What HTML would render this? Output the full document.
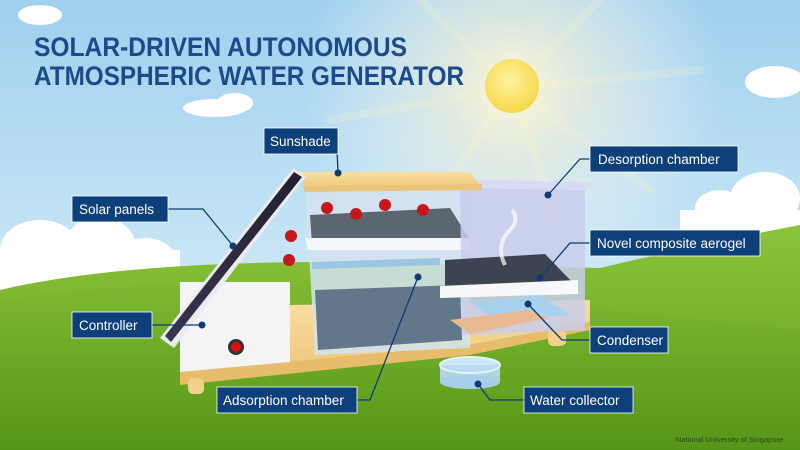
<!DOCTYPE html>
<html><head><meta charset="utf-8"><style>
html,body{margin:0;padding:0;width:800px;height:450px;overflow:hidden}
svg{display:block}
.lb{font-family:"Liberation Sans",sans-serif;font-size:13.5px;fill:#fff}
</style></head><body>
<svg width="800" height="450" viewBox="0 0 800 450" xmlns="http://www.w3.org/2000/svg">
<defs>
<linearGradient id="sky" x1="0" y1="0" x2="0" y2="1"><stop offset="0" stop-color="#9fd0ee"/><stop offset="0.6" stop-color="#c9e6f6"/><stop offset="1" stop-color="#e2f1f8"/></linearGradient>
<radialGradient id="glow" cx="512" cy="88" r="210" gradientUnits="userSpaceOnUse"><stop offset="0" stop-color="#fff8d8" stop-opacity="1"/><stop offset="0.35" stop-color="#fbf3d8" stop-opacity="0.6"/><stop offset="1" stop-color="#fff" stop-opacity="0"/></radialGradient>
<radialGradient id="sun" cx="0.45" cy="0.4" r="0.6"><stop offset="0" stop-color="#fff3a0"/><stop offset="1" stop-color="#f7d84a"/></radialGradient>
<linearGradient id="grass" x1="0" y1="0" x2="0" y2="1"><stop offset="0" stop-color="#8cc43a"/><stop offset="1" stop-color="#5e9e1c"/></linearGradient>
<linearGradient id="grass2" x1="0" y1="0" x2="0" y2="1"><stop offset="0" stop-color="#7db832"/><stop offset="1" stop-color="#4f8f14"/></linearGradient>
<linearGradient id="wood" x1="0" y1="0" x2="0" y2="1"><stop offset="0" stop-color="#f8dfa0"/><stop offset="1" stop-color="#eec77a"/></linearGradient>
<linearGradient id="panel" x1="0" y1="0" x2="1" y2="0"><stop offset="0" stop-color="#3a3550"/><stop offset="1" stop-color="#221f30"/></linearGradient>
</defs>
<rect width="800" height="450" fill="url(#sky)"/>
<circle cx="512" cy="88" r="210" fill="url(#glow)"/>
<g stroke="#fff6c8" stroke-width="8" opacity="0.2" stroke-linecap="round">
<line x1="512" y1="88" x2="420" y2="0"/><line x1="512" y1="88" x2="600" y2="0"/><line x1="512" y1="88" x2="650" y2="190"/><line x1="512" y1="88" x2="430" y2="210"/><line x1="512" y1="88" x2="700" y2="70"/><line x1="512" y1="88" x2="560" y2="230"/><line x1="512" y1="88" x2="330" y2="120"/>
</g>
<circle cx="512" cy="86" r="27" fill="url(#sun)"/>
<g fill="#fff">
<ellipse cx="40" cy="15" rx="22" ry="10"/><ellipse cx="215" cy="108" rx="32" ry="9"/><ellipse cx="235" cy="103" rx="18" ry="10"/>
<ellipse cx="775" cy="82" rx="30" ry="16"/><ellipse cx="720" cy="208" rx="25" ry="18"/><ellipse cx="765" cy="198" rx="35" ry="26"/><rect x="680" y="210" width="120" height="60"/>
<ellipse cx="40" cy="250" rx="40" ry="30"/><ellipse cx="100" cy="245" rx="35" ry="28"/><ellipse cx="145" cy="258" rx="30" ry="20"/><rect x="0" y="250" width="180" height="50"/>
</g>
<path d="M0 290 Q120 262 330 262 L600 268 Q720 240 800 225 L800 450 L0 450Z" fill="url(#grass)"/>
<path d="M0 300 Q200 270 420 290 L800 330 L800 450 L0 450Z" fill="url(#grass2)" opacity="0.6"/>
<text x="34" y="56" font-family="Liberation Sans,sans-serif" font-weight="bold" font-size="27" fill="#1c4a8c" textLength="373" lengthAdjust="spacingAndGlyphs">SOLAR-DRIVEN AUTONOMOUS</text>
<text x="34" y="85" font-family="Liberation Sans,sans-serif" font-weight="bold" font-size="27" fill="#1c4a8c" textLength="430" lengthAdjust="spacingAndGlyphs">ATMOSPHERIC WATER GENERATOR</text>
<!-- base plank -->
<polygon points="290,305 590,300 590,322 470,345 180,372 180,360 285,345" fill="url(#wood)"/>
<polygon points="180,372 470,345 590,322 590,330 470,355 180,385" fill="#e7bd6c"/>
<rect x="188" y="378" width="16" height="16" rx="5" fill="#f2d08a"/><rect x="548" y="330" width="18" height="16" rx="5" fill="#f2d08a"/>
<!-- adsorption box -->
<polygon points="305,185 470,185 470,348 315,355" fill="#d3e2ee" opacity="0.85"/>
<polygon points="315,290 460,285 462,340 318,350" fill="#62788a"/>
<polygon points="312,235 465,232 465,240 312,245" fill="#c0dcee"/>
<polygon points="312,262 440,258 440,265 312,269" fill="#9ac6e2"/>
<polygon points="310,215 450,208 470,240 312,245" fill="#5c6670"/>
<polygon points="305,238 470,238 470,250 308,250" fill="#f5f8fa"/>
<!-- desorption box -->
<polygon points="460,188 585,190 585,330 462,335" fill="#c8cceb" opacity="0.85"/>
<polygon points="460,188 478,180 596,182 585,190" fill="#d7dbf4"/>
<polygon points="445,260 545,254 575,285 445,290" fill="#3c4452"/>
<polygon points="440,286 578,280 578,294 440,298" fill="#f6f8fb"/>
<polygon points="470,302 540,296 570,315 495,320" fill="#a8d0ef"/>
<polygon points="450,320 530,310 548,318 470,334" fill="#e9b992"/>
<path d="M505 265 Q495 245 510 230 Q520 220 512 210" stroke="#fff" stroke-width="4" fill="none" opacity="0.7"/>
<!-- sunshade -->
<polygon points="300,172 470,172 480,185 305,188" fill="url(#wood)"/>
<polygon points="303,186 482,184 482,190 305,192" fill="#e8c57a"/>
<g fill="#c8161d"><circle cx="327" cy="208" r="6"/><circle cx="356" cy="214" r="6"/><circle cx="385" cy="205" r="6"/><circle cx="423" cy="210" r="6"/><circle cx="291" cy="236" r="6"/><circle cx="289" cy="260" r="6"/></g>
<!-- controller -->
<polygon points="180,282 290,282 290,362 180,372" fill="#f4f4f6"/>
<circle cx="236" cy="347" r="8" fill="#333"/><circle cx="236" cy="347" r="5" fill="#e01010"/>
<!-- solar panel -->
<polygon points="160,338 293,168 306,176 174,348" fill="#e8ecef"/>
<polygon points="165,336 294,172 302,177 171,342" fill="url(#panel)"/>
<!-- water collector -->
<ellipse cx="470" cy="365" rx="30" ry="8" fill="#cde7f5"/>
<rect x="440" y="365" width="60" height="17" fill="#b7d9ee" opacity="0.9"/>
<ellipse cx="470" cy="382" rx="30" ry="7" fill="#a6cfe9"/>
<ellipse cx="470" cy="365" rx="30" ry="8" fill="none" stroke="#e6f3fa" stroke-width="2"/>
<g stroke="#0d3b74" stroke-width="1.3" fill="none">
<polyline points="337,150 338,172"/>
<polyline points="590,159 580,159 548,195"/>
<polyline points="168,209 203,209 233,246"/>
<polyline points="590,243 570,243 540,278"/>
<polyline points="152,325 202,325"/>
<polyline points="590,340 562,340 528,304"/>
<polyline points="357,400 370,400 418,277"/>
<polyline points="524,400 490,400 478,384"/>
</g>
<g fill="#0d3b74"><circle cx="338" cy="173" r="3.5"/><circle cx="548" cy="195" r="3.5"/><circle cx="233" cy="246" r="3.5"/><circle cx="540" cy="278" r="3.5"/><circle cx="202" cy="325" r="3.5"/><circle cx="528" cy="304" r="3.5"/><circle cx="418" cy="277" r="3.5"/><circle cx="478" cy="384" r="3.5"/></g>
<g fill="#0d3f7a" stroke="#fff" stroke-width="0.8">
<rect x="264" y="128" width="74" height="26"/><rect x="590" y="146" width="148" height="26"/><rect x="72" y="196" width="96" height="26"/><rect x="590" y="230" width="170" height="26"/><rect x="72" y="312" width="80" height="26"/><rect x="590" y="327" width="78" height="26"/><rect x="217" y="387" width="140" height="26"/><rect x="524" y="387" width="109" height="26"/>
</g>
<text class="lb" x="270" y="146">Sunshade</text>
<text class="lb" x="598" y="164">Desorption chamber</text>
<text class="lb" x="79" y="214">Solar panels</text>
<text class="lb" x="597" y="248">Novel composite aerogel</text>
<text class="lb" x="79" y="330">Controller</text>
<text class="lb" x="597" y="345">Condenser</text>
<text class="lb" x="223" y="405">Adsorption chamber</text>
<text class="lb" x="530" y="405">Water collector</text>
<text x="676" y="442" font-family="Liberation Sans,sans-serif" font-size="7.5" fill="#2a4a20">National University of Singapore</text>
</svg>
</body></html>
